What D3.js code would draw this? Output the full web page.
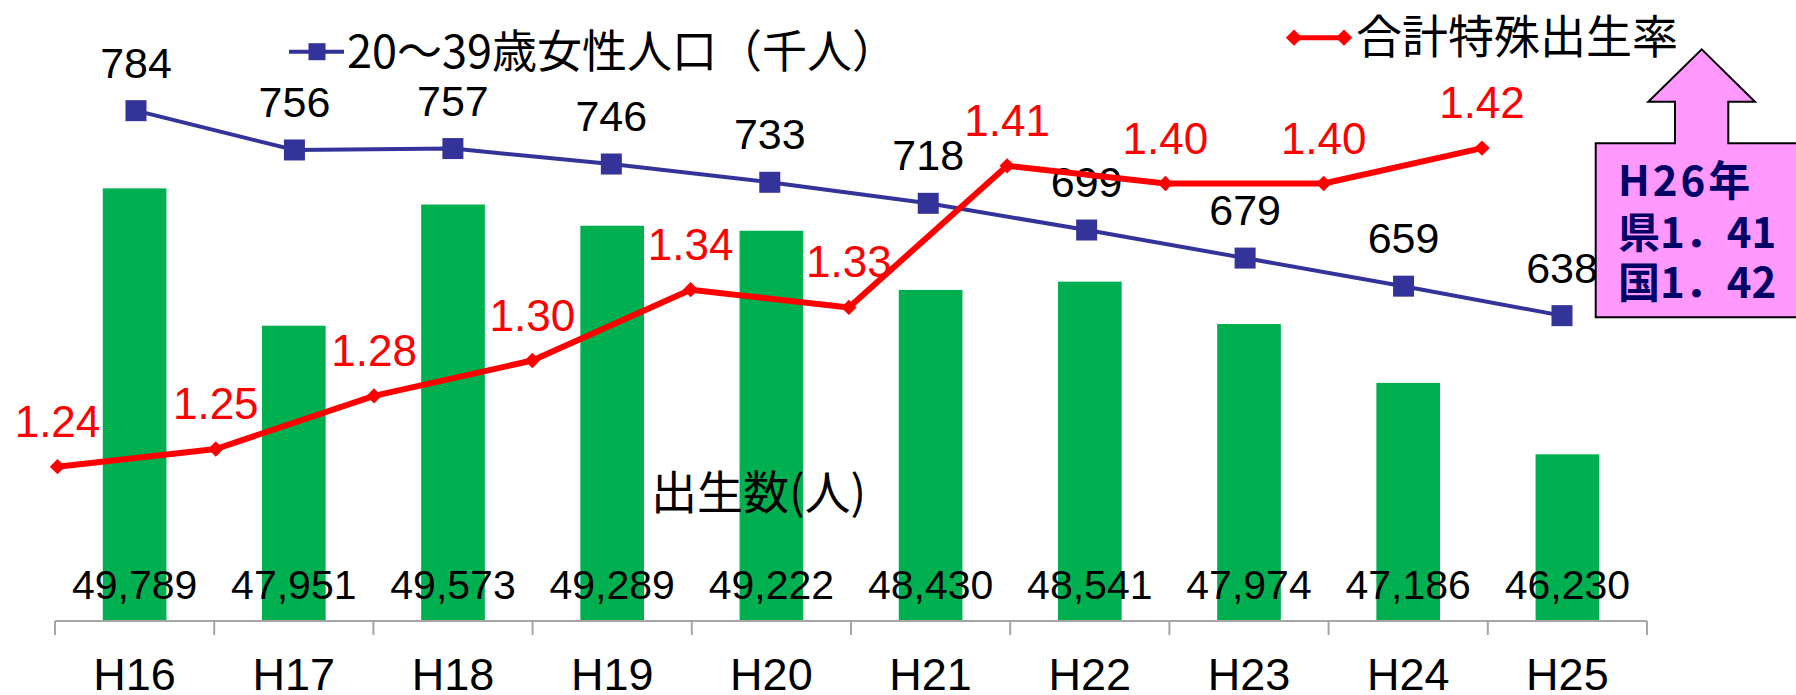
<!DOCTYPE html>
<html>
<head>
<meta charset="utf-8">
<script src="https://cdn.jsdelivr.net/npm/d3@7/dist/d3.min.js"></script>
<style>
  html, body { margin: 0; padding: 0; background: #fff; }
  svg { display: block; }
</style>
</head>
<body>
<svg id="chart" width="1796" height="695"></svg>
<script>
// Fiscal years (Heisei)
const years = ["H16", "H17", "H18", "H19", "H20", "H21", "H22", "H23", "H24", "H25"];
// Births (persons)
const births = [49789, 47951, 49573, 49289, 49222, 48430, 48541, 47974, 47186, 46230];
// Female population aged 20-39 (thousands)
const womenPop = [784, 756, 757, 746, 733, 718, 699, 679, 659, 638];
// Total fertility rate
const fertility = [1.24, 1.25, 1.28, 1.30, 1.34, 1.33, 1.41, 1.40, 1.40, 1.42];

const seriesNames = {
  births: "出生数(人)",
  women: "20～39歳女性人口（千人）",
  fertility: "合計特殊出生率"
};
const noteLines = ["H26年", "県1．41", "国1．42"];

const NUM_FONT = "'Liberation Sans', Arial, sans-serif";
const JP_FONT = "'Noto Sans CJK JP', 'Noto Sans', sans-serif";
const GREEN = "#00B050", BLUE = "#333399", RED = "#FF0000";

const svg = d3.select("#chart");
svg.append("rect").attr("width", 1796).attr("height", 695).attr("fill", "#fff");

// Scales
const xBand = d3.scaleBand().domain(years).range([55, 1647]).paddingInner(0.6).paddingOuter(0.3);
const yBirths = d3.scaleLinear().domain([44000, 50000]).range([621, 172.6]);
const xWomen = d3.scalePoint().domain(years).range([136, 1562]);
const yWomen = d3.scaleLinear().domain([600, 800]).range([369, 88.2]);
const xFert = d3.scalePoint().domain(years).range([57.5, 1482]);
const yFert = d3.scaleLinear().domain([1.2, 1.5]).range([537.5, 6.5]);

// Bars: births
svg.append("g").selectAll("rect").data(births).join("rect")
  .attr("x", (d, i) => xBand(years[i]))
  .attr("y", d => yBirths(d))
  .attr("width", xBand.bandwidth())
  .attr("height", d => yBirths.range()[0] - yBirths(d))
  .attr("fill", GREEN);

// Category axis
const axis = d3.axisBottom(xBand).tickSize(0).tickPadding(0).tickFormat("");
const axisG = svg.append("g").attr("transform", "translate(0,621)").call(axis);
axisG.select(".domain").attr("stroke", "#A6A6A6").attr("stroke-width", 2)
  .attr("d", "M55,0H1647");
// boundary tick marks between categories
const bounds = d3.range(years.length + 1).map(i => xBand.range()[0] + i * xBand.step());
axisG.selectAll("line.bound").data(bounds).join("line")
  .attr("class", "bound")
  .attr("x1", d => d).attr("x2", d => d)
  .attr("y1", 0).attr("y2", 14)
  .attr("stroke", "#A6A6A6").attr("stroke-width", 2);
svg.append("g").selectAll("text").data(years).join("text")
  .attr("x", d => xBand(d) + xBand.bandwidth() / 2)
  .attr("y", 690)
  .attr("text-anchor", "middle")
  .attr("font-family", NUM_FONT).attr("font-size", 45).attr("fill", "#000")
  .text(d => d);

// Birth value labels
svg.append("g").selectAll("text").data(births).join("text")
  .attr("x", (d, i) => xBand(years[i]) + xBand.bandwidth() / 2)
  .attr("y", 599)
  .attr("text-anchor", "middle")
  .attr("font-family", NUM_FONT).attr("font-size", 41).attr("fill", "#000")
  .text(d => d3.format(",")(d));

// Births series label
svg.append("text")
  .attr("x", 651).attr("y", 509)
  .attr("font-family", JP_FONT).attr("font-size", 46).attr("fill", "#000")
  .text(seriesNames.births);

// Women population line
const womenLine = d3.line().x((d, i) => xWomen(years[i])).y(d => yWomen(d));
svg.append("path").datum(womenPop)
  .attr("d", womenLine).attr("fill", "none")
  .attr("stroke", BLUE).attr("stroke-width", 4);
svg.append("g").selectAll("rect").data(womenPop).join("rect")
  .attr("x", (d, i) => xWomen(years[i]) - 10.5)
  .attr("y", d => yWomen(d) - 10.5)
  .attr("width", 21).attr("height", 21)
  .attr("fill", BLUE);
svg.append("g").selectAll("text").data(womenPop).join("text")
  .attr("x", (d, i) => xWomen(years[i]))
  .attr("y", d => yWomen(d) - 33)
  .attr("text-anchor", "middle")
  .attr("font-family", NUM_FONT).attr("font-size", 43).attr("fill", "#000")
  .text(d => d);

// Fertility line
const fertLine = d3.line().x((d, i) => xFert(years[i])).y(d => yFert(d));
svg.append("path").datum(fertility)
  .attr("d", fertLine).attr("fill", "none")
  .attr("stroke", RED).attr("stroke-width", 6).attr("stroke-linejoin", "round");
const diamond = d3.symbol().type(d3.symbolDiamond2).size(150);
svg.append("g").selectAll("path").data(fertility).join("path")
  .attr("transform", (d, i) => `translate(${xFert(years[i])},${yFert(d)})`)
  .attr("d", diamond)
  .attr("fill", RED);
svg.append("g").selectAll("text").data(fertility).join("text")
  .attr("x", (d, i) => xFert(years[i]))
  .attr("y", d => yFert(d) - 30)
  .attr("text-anchor", "middle")
  .attr("font-family", NUM_FONT).attr("font-size", 44).attr("fill", RED)
  .text(d => d.toFixed(2));

// Legend: women population
const lgW = svg.append("g");
lgW.append("line").attr("x1", 289).attr("x2", 344).attr("y1", 51.7).attr("y2", 51.7)
  .attr("stroke", BLUE).attr("stroke-width", 4);
lgW.append("rect").attr("x", 308.5).attr("y", 43.2).attr("width", 17).attr("height", 17).attr("fill", BLUE);
lgW.append("text").attr("x", 347).attr("y", 68)
  .attr("font-family", JP_FONT).attr("font-size", 45).attr("fill", "#000")
  .text(seriesNames.women);

// Legend: fertility
const lgF = svg.append("g");
lgF.append("line").attr("x1", 1290).attr("x2", 1348).attr("y1", 37.7).attr("y2", 37.7)
  .attr("stroke", RED).attr("stroke-width", 5);
[1294, 1344].forEach(cx => {
  lgF.append("path").attr("transform", `translate(${cx},37.7)`)
    .attr("d", d3.symbol().type(d3.symbolDiamond2).size(170)).attr("fill", RED);
});
lgF.append("text").attr("x", 1356).attr("y", 53)
  .attr("font-family", JP_FONT).attr("font-size", 46).attr("fill", "#000")
  .text(seriesNames.fertility);

// Up-arrow callout with the H26 figures
const callout = [
  [1595.7, 143.3], [1675, 143.3], [1675, 101.7], [1648.3, 101.7], [1701.7, 49.3],
  [1755, 101.7], [1728.3, 101.7], [1728.3, 143.3], [1800, 143.3], [1800, 317.3], [1595.7, 317.3]
];
svg.append("path")
  .attr("d", d3.line()(callout) + "Z")
  .attr("fill", "#FF99FF").attr("stroke", "#000").attr("stroke-width", 2);
const noteY = [195.7, 248.3, 298.3];
svg.append("g").selectAll("text").data(noteLines).join("text")
  .attr("x", 1618).attr("y", (d, i) => noteY[i])
  .attr("font-family", JP_FONT).attr("font-weight", "bold")
  .attr("font-size", 42).attr("fill", "#000066")
  .attr("letter-spacing", (d, i) => i === 0 ? 3 : 0)
  .text(d => d);
</script>
</body>
</html>
